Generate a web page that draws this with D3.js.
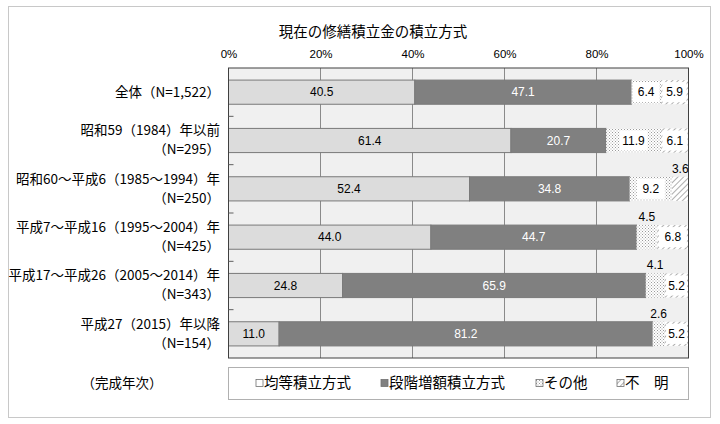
<!DOCTYPE html>
<html><head><meta charset="utf-8">
<script src="https://cdn.jsdelivr.net/npm/d3@7"></script>
<style>
body{margin:0;background:#fff;}
svg{display:block;}
</style></head>
<body>
<script>
// ---- data ----
const title = "現在の修繕積立金の積立方式";
const catLine1 = ["全体（N=1,522）","昭和59（1984）年以前","昭和60～平成6（1985～1994）年","平成7～平成16（1995～2004）年","平成17～平成26（2005～2014）年","平成27（2015）年以降"];
const catLine2 = ["","（N=295）","（N=250）","（N=425）","（N=343）","（N=154）"];
const seriesNames = ["均等積立方式","段階増額積立方式","その他","不　明"];
const kinto  = [40.5, 61.4, 52.4, 44.0, 24.8, 11.0];
const dankai = [47.1, 20.7, 34.8, 44.7, 65.9, 81.2];
const sonota = [6.4, 11.9, 9.2, 4.5, 4.1, 2.6];
const fumei  = [5.9, 6.1, 3.6, 6.8, 5.2, 5.2];
const tickValues = [0,20,40,60,80,100];
const axisNote = "（完成年次）";

const W=720,H=424;
const svg=d3.select("body").append("svg").attr("width",W).attr("height",H);
const defs=svg.append("defs");
const dots=defs.append("pattern").attr("id","dots").attr("patternUnits","userSpaceOnUse").attr("width",3).attr("height",3);
dots.append("rect").attr("width",3).attr("height",3).attr("fill","#ffffff");
dots.append("rect").attr("x",0).attr("y",0).attr("width",1).attr("height",1).attr("fill","#9a9a9a");
dots.append("rect").attr("x",1.5).attr("y",1.5).attr("width",1).attr("height",1).attr("fill","#a8a8a8");
const hatch=defs.append("pattern").attr("id","hatch").attr("patternUnits","userSpaceOnUse").attr("width",4).attr("height",4).attr("patternTransform","rotate(45)");
hatch.append("rect").attr("width",4).attr("height",4).attr("fill","#ffffff");
hatch.append("line").attr("x1",0).attr("y1",0).attr("x2",0).attr("y2",4).attr("stroke","#9a9a9a").attr("stroke-width",1.6);

const fills=["#dcdcdc","#808080","url(#dots)","url(#hatch)"];
const legendFills=["#ffffff","#808080","url(#dots)","url(#hatch)"];

// frame
svg.append("rect").attr("x",8.5).attr("y",6.5).attr("width",702).attr("height",411).attr("fill","#fff").attr("stroke","#c8c8c8");

const JP="'Noto Sans CJK JP','Noto Sans',sans-serif";
const NUM="'Liberation Sans',Arial,sans-serif";

svg.append("text").attr("x",373).attr("y",37).attr("text-anchor","middle").attr("font-family",JP).attr("font-size",14.5).attr("fill","#000").text(title);

const x=d3.scaleLinear().domain([0,100]).range([228.5,688.5]);
const y=d3.scaleBand().domain(d3.range(catLine1.length)).range([68,358]).paddingInner(0.5).paddingOuter(0.25);
const step=y.step();

// plot area
svg.append("rect").attr("x",x(0)).attr("y",68).attr("width",x(100)-x(0)).attr("height",290).attr("fill","#f0f0f0");
svg.append("g").selectAll("line").data(tickValues.slice(1,-1)).join("line")
  .attr("x1",d=>x(d)).attr("x2",d=>x(d)).attr("y1",68).attr("y2",358).attr("stroke","#8a8a8a").attr("stroke-width",1);

// axis
const ax=svg.append("g").attr("transform","translate(0,58)")
  .call(d3.axisTop(x).tickValues(tickValues).tickFormat(d=>d+"%").tickSize(0).tickPadding(0));
ax.select(".domain").remove();
ax.selectAll("text").attr("font-family",NUM).attr("font-size",11.5).attr("fill","#000");

// stack
const rows=catLine1.map((c,i)=>({i,k0:kinto[i],k1:dankai[i],k2:sonota[i],k3:fumei[i]}));
const stack=d3.stack().keys(["k0","k1","k2","k3"])(rows);
const bh=y.bandwidth();
stack.forEach((s,si)=>{
  const g=svg.append("g");
  g.selectAll("rect").data(s).join("rect")
    .attr("x",d=>x(d[0])).attr("y",d=>y(d.data.i)).attr("width",d=>x(d[1])-x(d[0])).attr("height",bh)
    .attr("fill",fills[si]).attr("stroke",si<2?"#7a7a7a":"none").attr("stroke-width",1);
});

// plot border + category ticks
svg.append("rect").attr("x",x(0)).attr("y",68).attr("width",x(100)-x(0)).attr("height",290).attr("fill","none").attr("stroke","#404040");
svg.append("g").selectAll("line").data(d3.range(1,catLine1.length)).join("line")
  .attr("x1",x(0)).attr("x2",x(0)+5).attr("y1",d=>68+d*step).attr("y2",d=>68+d*step).attr("stroke","#606060");

// labels
stack.forEach((s,si)=>{
  const g=svg.append("g").attr("font-family",NUM).attr("font-size",12);
  s.forEach(d=>{
    const v=d[1]-d[0];
    const cx=(x(d[0])+x(d[1]))/2, cy=y(d.data.i)+bh/2;
    const txt=v.toFixed(1);
    if(si<2){
      g.append("text").attr("x",cx).attr("y",cy).attr("dy","0.36em").attr("text-anchor","middle").attr("fill",si==1?"#ffffff":"#000").text(txt);
    } else if(v>=5){
      const segW=x(d[1])-x(d[0]);
      const bw=Math.min(segW-3,28);
      g.append("rect").attr("x",cx-bw/2).attr("y",y(d.data.i)+2).attr("width",bw).attr("height",bh-4).attr("fill","#ffffff");
      g.append("text").attr("x",cx).attr("y",cy).attr("dy","0.36em").attr("text-anchor","middle").attr("fill","#000").text(txt);
    } else {
      g.append("text").attr("x",cx).attr("y",y(d.data.i)-4).attr("text-anchor","middle").attr("fill","#000").text(txt);
    }
  });
});

// category labels
const cl=svg.append("g").attr("font-family",JP).attr("font-size",13.5).attr("fill","#000").attr("text-anchor","end");
catLine1.forEach((c,i)=>{
  const cy=y(i)+bh/2;
  if(catLine2[i]){
    cl.append("text").attr("x",220).attr("y",cy-10).attr("dy","0.36em").text(c);
    cl.append("text").attr("x",220).attr("y",cy+9).attr("dy","0.36em").text(catLine2[i]);
  } else {
    cl.append("text").attr("x",220).attr("y",cy).attr("dy","0.36em").text(c);
  }
});

// axis note
svg.append("text").attr("x",122).attr("y",383).attr("dy","0.36em").attr("text-anchor","middle").attr("font-family",JP).attr("font-size",13.5).text(axisNote);

// legend
svg.append("rect").attr("x",228.5).attr("y",367.5).attr("width",460).attr("height",32).attr("fill","#fff").attr("stroke","#b0b0b0");
const legX=[256,381,536,617];
const lg=svg.append("g").selectAll("g").data(seriesNames).join("g").attr("transform",(d,i)=>`translate(${legX[i]},383)`);
lg.append("rect").attr("x",0).attr("y",-3.5).attr("width",7).attr("height",7).attr("fill",(d,i)=>legendFills[i]).attr("stroke","#707070").attr("stroke-width",0.8);
lg.append("text").attr("x",8).attr("y",0).attr("dy","0.36em").attr("font-family",JP).attr("font-size",14.5).attr("fill","#000").text(d=>d);
</script>
</body></html>
